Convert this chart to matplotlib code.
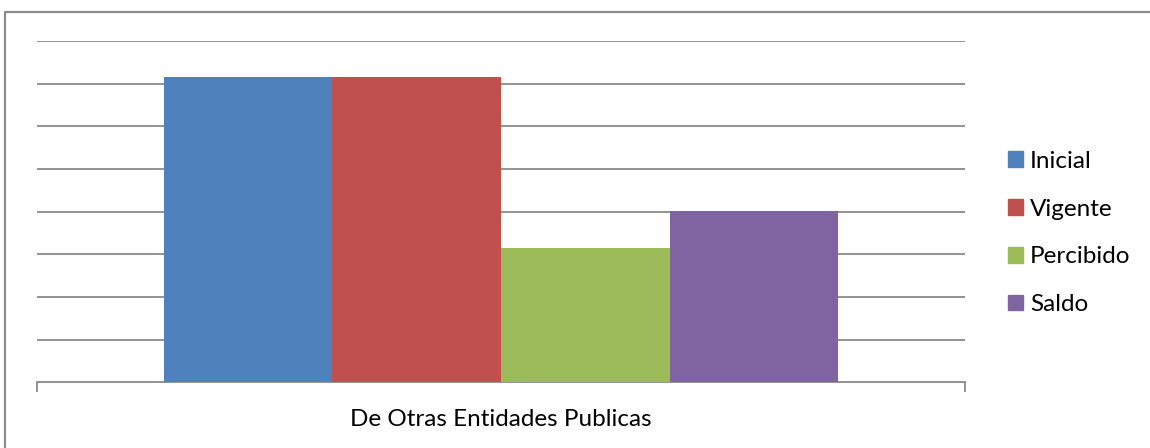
import matplotlib.pyplot as plt
from matplotlib.patches import Patch
from matplotlib.lines import Line2D

# datos
category = "De Otras Entidades Publicas"
series = ["Inicial", "Vigente", "Percibido", "Saldo"]
values = [7.16, 7.16, 3.15, 4.01]
colors = ["#4F81BD", "#C0504D", "#9BBB59", "#8064A2"]

W, H = 1150, 448
fig = plt.figure(figsize=(W / 100, H / 100), dpi=100)
plt.rcParams["font.family"] = ["Lato", "DejaVu Sans"]

# marco exterior (solo se ven borde superior e izquierdo)
fig.lines.append(Line2D([5 / W, 5 / W, 1.0], [0.0, 1 - 12 / H, 1 - 12 / H],
                        transform=fig.transFigure, color="#8c8c8c", linewidth=1.6))

ax = fig.add_axes([37 / W, 1 - 382.3 / H, (965 - 37) / W, (382.3 - 41) / H])

w = 1 / 5.5
for i, (s, v, c) in enumerate(zip(series, values, colors)):
    ax.bar((i - 1.5) * w, v, width=w, color=c, label=s, zorder=3)

ax.set_xlim(-0.5, 0.5)
ax.set_ylim(0, 8)
ax.set_yticks(range(1, 9))
ax.yaxis.grid(True, color="#8a8a8a", linewidth=1.3, zorder=0)
ax.tick_params(axis="y", left=False, labelleft=False)

ax.set_xticks([0])
ax.set_xticklabels([category], fontsize=17.5)
ax.set_xticks([-0.5, 0.5], minor=True)
ax.tick_params(axis="x", which="major", length=0, pad=19)
ax.tick_params(axis="x", which="minor", length=7, width=1.3, color="#8a8a8a", direction="out")

for side in ["top", "right", "left"]:
    ax.spines[side].set_visible(False)
ax.spines["bottom"].set_color("#8a8a8a")
ax.spines["bottom"].set_linewidth(1.3)

handles = [Patch(color=c) for c in colors]
fig.legend(handles, series, loc="center left", bbox_to_anchor=(1008 / W, 1 - 233 / H),
           frameon=False, fontsize=17.5, handlelength=0.62, handleheight=0.62,
           handletextpad=0.29, labelspacing=1.1, borderpad=0, borderaxespad=0)

plt.savefig("out.png", dpi=100)
plt.close()
